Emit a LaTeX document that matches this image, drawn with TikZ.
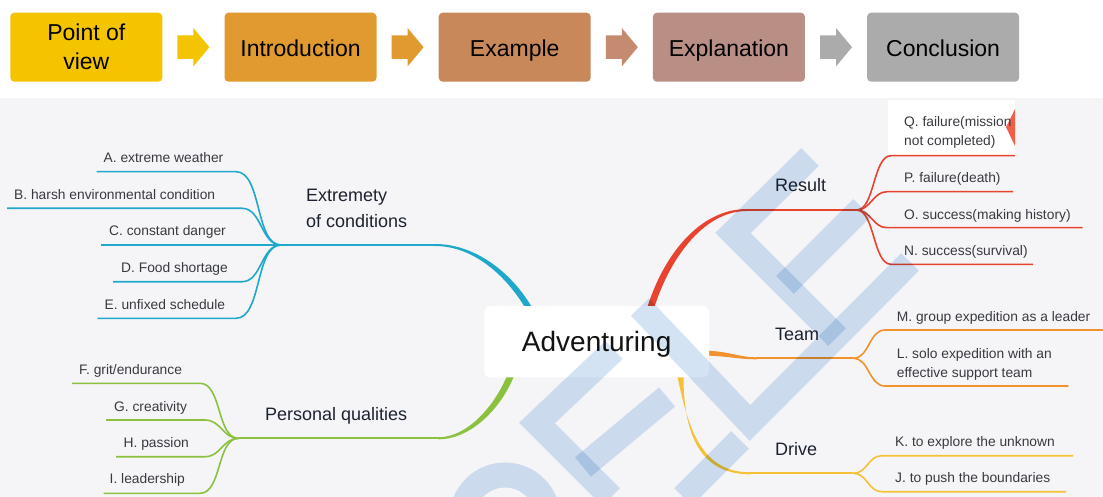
\documentclass[tikz,border=0pt]{standalone}
\usepackage{fontspec}
\setmainfont{Liberation Sans}
\usetikzlibrary{calc}
\definecolor{cyel}{HTML}{F5C400}
\definecolor{cora}{HTML}{E09A30}
\definecolor{cexa}{HTML}{C8885A}
\definecolor{cexaar}{HTML}{C58B70}
\definecolor{cexp}{HTML}{B88E85}
\definecolor{cgry}{HTML}{ABABAB}
\definecolor{mmbg}{HTML}{F5F5F8}
\definecolor{bbr}{HTML}{1FA8CC}
\definecolor{rbr}{HTML}{E8432F}
\definecolor{obr}{HTML}{F0922E}
\definecolor{ybr}{HTML}{F5C235}
\definecolor{gbr}{HTML}{8CC13F}
\definecolor{lbltxt}{HTML}{383A40}
\definecolor{ttltxt}{HTML}{1C2230}
\definecolor{wmark}{HTML}{D4E3F4}
\definecolor{qtag}{HTML}{F06048}
\newcommand\flowarr[3]{\fill[#1, shift={($(#2.east)!0.5!(#3.west)$)}] (-16,-11.8) -- (0,-11.8) -- (0,-19.2) -- (16,0) -- (0,19.2) -- (0,11.8) -- (-16,11.8) -- cycle;}
\begin{document}
\begin{tikzpicture}[x=1pt,y=-1pt,
  flowbox/.style={rounded corners=4pt, minimum width=152pt, minimum height=69pt, inner sep=0pt, align=center, font=\fontsize{23}{29}\selectfont, text=black},
  flowone/.style={flowbox, text height=19pt, text depth=0pt},
  lbl/.style={anchor=base west, inner sep=0pt, font=\fontsize{13.8}{19}\selectfont, text=lbltxt, align=left},
  ttl/.style={anchor=base west, inner sep=0pt, font=\fontsize{18}{26}\selectfont, text=ttltxt, align=left},
  sub/.style={line width=1.6pt},
  trunk/.style={line width=2pt},
  wm/.style={draw=wmark, line width=25pt},
  centerbox/.style={fill=white, rounded corners=6pt, minimum width=224.7pt, minimum height=71.3pt, inner sep=0pt, font=\fontsize{28}{32}\selectfont, text=black!93, text height=26pt, text depth=6pt}
]
\useasboundingbox (0,0) rectangle (1103,497);
\fill[white] (0,0) rectangle (1103,497);
\fill[mmbg] (0,98) rectangle (1103,497);

% ---------- top flow ----------
\node[flowbox, fill=cyel] (b1) at (86.3,47.2) {Point of\\view};
\node[flowone, fill=cora] (b2) at (300.5,47.2) {Introduction};
\node[flowone, fill=cexa] (b3) at (514.7,47.2) {Example};
\node[flowone, fill=cexp] (b4) at (728.9,47.2) {Explanation};
\node[flowone, fill=cgry] (b5) at (943.1,47.2) {Conclusion};
\flowarr{cyel}{b1}{b2}
\flowarr{cora}{b2}{b3}
\flowarr{cexaar}{b3}{b4}
\flowarr{cgry}{b4}{b5}

% ---------- hubs ----------
\coordinate (hubE) at (281,245);
\coordinate (hubP) at (238.6,438.3);
\coordinate (hubR) at (856.7,210);
\coordinate (hubT) at (853.3,358.3);
\coordinate (hubD) at (853.3,473.3);
\coordinate (bendE) at (236,0);
\coordinate (bendP) at (200,0);
\coordinate (bendR) at (891,0);
\coordinate (bendT) at (885,0);
\coordinate (bendD) at (882,0);

% Q tag patch
\fill[white] (888,100) rectangle (1015,156);
\fill[qtag] (1015,109) -- (1006,127) -- (1015,146) -- cycle;

% ---------- blue branch ----------
\coordinate (lA) at (96.5,171.7);
\coordinate (lB) at (7,208.3);
\coordinate (lC) at (101,245);
\coordinate (lD) at (113,281.7);
\coordinate (lE) at (97.5,318.3);
\begin{scope}[draw=bbr, sub]
\draw (lA) -- (lA -| bendE) .. controls +(26,0) and +(-26,0) .. (hubE);
\draw (lB) -- ($(lB -| bendE)+(6,0)$) .. controls +(20,0) and +(-20,0) .. (hubE);
\draw (lC) -- (hubE);
\draw (lD) -- ($(lD -| bendE)+(6,0)$) .. controls +(20,0) and +(-20,0) .. (hubE);
\draw (lE) -- (lE -| bendE) .. controls +(26,0) and +(-26,0) .. (hubE);
\end{scope}
\draw[bbr, trunk] (hubE) -- (436,245);
\fill[bbr] (435,244) .. controls (476,244) and (513,273.5) .. (533.5,310) -- (526.5,310) .. controls (507,276.5) and (474,246) .. (435,246) -- cycle;

% ---------- green branch ----------
\coordinate (lF) at (72,383.3);
\coordinate (lG) at (106,420);
\coordinate (lH) at (116,456.7);
\coordinate (lI) at (103.5,493.3);
\begin{scope}[draw=gbr, sub]
\draw (lF) -- (lF -| bendP) .. controls +(22,0) and +(-22,0) .. (hubP);
\draw (lG) -- ($(lG -| bendP)+(5,0)$) .. controls +(16,0) and +(-16,0) .. (hubP);
\draw (lH) -- ($(lH -| bendP)+(5,0)$) .. controls +(16,0) and +(-16,0) .. (hubP);
\draw (lI) -- (lI -| bendP) .. controls +(22,0) and +(-22,0) .. (hubP);
\end{scope}
\draw[gbr, trunk] (hubP) -- (439.6,438.3);
\fill[gbr] (438.6,439.3) .. controls (472,439.3) and (503.5,406) .. (515.5,372) -- (508.5,372) .. controls (496.5,404) and (468,437.3) .. (438.6,437.3) -- cycle;

% ---------- red branch ----------
\coordinate (rQ) at (1015,155.7);
\coordinate (rP) at (1013,191.7);
\coordinate (rO) at (1082.7,227.7);
\coordinate (rN) at (1033,264.3);
\begin{scope}[draw=rbr, sub]
\draw (hubR) .. controls +(18,0) and +(-18,0) .. (rQ -| bendR) -- (rQ);
\draw (hubR) .. controls +(14,0) and +(-14,0) .. ($(rP -| bendR)+(-4,0)$) -- (rP);
\draw (hubR) .. controls +(14,0) and +(-14,0) .. ($(rO -| bendR)+(-4,0)$) -- (rO);
\draw (hubR) .. controls +(18,0) and +(-18,0) .. (rN -| bendR) -- (rN);
\end{scope}
\draw[rbr, trunk] (746,210) -- (hubR);
\fill[rbr] (646.5,310) .. controls (662,258) and (698,209) .. (747,209) -- (747,211) .. controls (702,211) and (668,262) .. (653.5,310) -- cycle;

% ---------- orange branch ----------
\coordinate (rM) at (1103,330);
\coordinate (rL) at (1068.3,386);
\begin{scope}[draw=obr, sub]
\draw (hubT) .. controls +(16,0) and +(-16,0) .. (rM -| bendT) -- (rM);
\draw (hubT) .. controls +(16,0) and +(-16,0) .. (rL -| bendT) -- (rL);
\end{scope}
\draw[obr, trunk] (756,358.3) -- (hubT);
\fill[obr] (700,350.5) .. controls (728,350.5) and (738,357.3) .. (757,357.3) -- (757,359.3) .. controls (736,359.3) and (726,355.5) .. (700,355.5) -- cycle;

% ---------- yellow branch ----------
\coordinate (rK) at (1073.3,455.7);
\coordinate (rJ) at (1066,491.7);
\begin{scope}[draw=ybr, sub]
\draw (hubD) .. controls +(14,0) and +(-14,0) .. (rK -| bendD) -- (rK);
\draw (hubD) .. controls +(14,0) and +(-14,0) .. (rJ -| bendD) -- (rJ);
\end{scope}
\draw[ybr, trunk] (749,473.3) -- (hubD);
\fill[ybr] (676.5,372) .. controls (687,422) and (698,472.3) .. (750,472.3) -- (750,474.3) .. controls (694,474.3) and (683,424) .. (683.5,372) -- cycle;

% ---------- center ----------
\node[centerbox] (adv) at (596.65,341.65) {Adventuring};

% ---------- titles ----------
\node[ttl] (tExt) at (306,227.7) {Extremety\\of conditions};
\node[ttl] (tPer) at (265,420.7) {Personal qualities};
\node[ttl] (tRes) at (775,191.7) {Result};
\node[ttl] (tTea) at (775,340.7) {Team};
\node[ttl] (tDri) at (775,455) {Drive};

% ---------- labels ----------
\node[lbl] (tA) at (103.5,163) {A. extreme weather};
\node[lbl] (tB) at (14,200) {B. harsh environmental condition};
\node[lbl] (tC) at (109,236) {C. constant danger};
\node[lbl] (tD) at (121,272.7) {D. Food shortage};
\node[lbl] (tE) at (104.5,309.3) {E. unfixed schedule};
\node[lbl] (tF) at (79,374) {F. grit/endurance};
\node[lbl] (tG) at (114,411.7) {G. creativity};
\node[lbl] (tH) at (123.5,447.7) {H. passion};
\node[lbl] (tI) at (109.5,483.3) {I. leadership};
\node[lbl] (tQ) at (904,146) {Q. failure(mission\\not completed)};
\node[lbl] (tP) at (904,182.3) {P. failure(death)};
\node[lbl] (tO) at (904,219) {O. success(making history)};
\node[lbl] (tN) at (904,255.7) {N. success(survival)};
\node[lbl] (tM) at (896.7,321.7) {M. group expedition as a leader};
\node[lbl] (tL) at (896.7,377.3) {L. solo expedition with an\\effective support team};
\node[lbl] (tK) at (895,446) {K. to explore the unknown};
\node[lbl] (tJ) at (895,482.7) {J. to push the boundaries};

% ---------- watermark ----------
\begin{scope}[blend mode=multiply]
\draw[wm] (810,157) -- (733,233) -- (837,337);
\draw[wm] (862,208) -- (785,285);
\draw[wm] (640,307) -- (750,423) -- (910,262);
\draw[wm] (614,350) -- (537,423) -- (611,497);
\draw[wm] (583,467) -- (667,397);
\draw[wm] (740,440) -- (683,497);
\draw[wm] (505,518) ++(-180:43) arc[start angle=-180, end angle=0, radius=43];
\end{scope}
\end{tikzpicture}
\end{document}
